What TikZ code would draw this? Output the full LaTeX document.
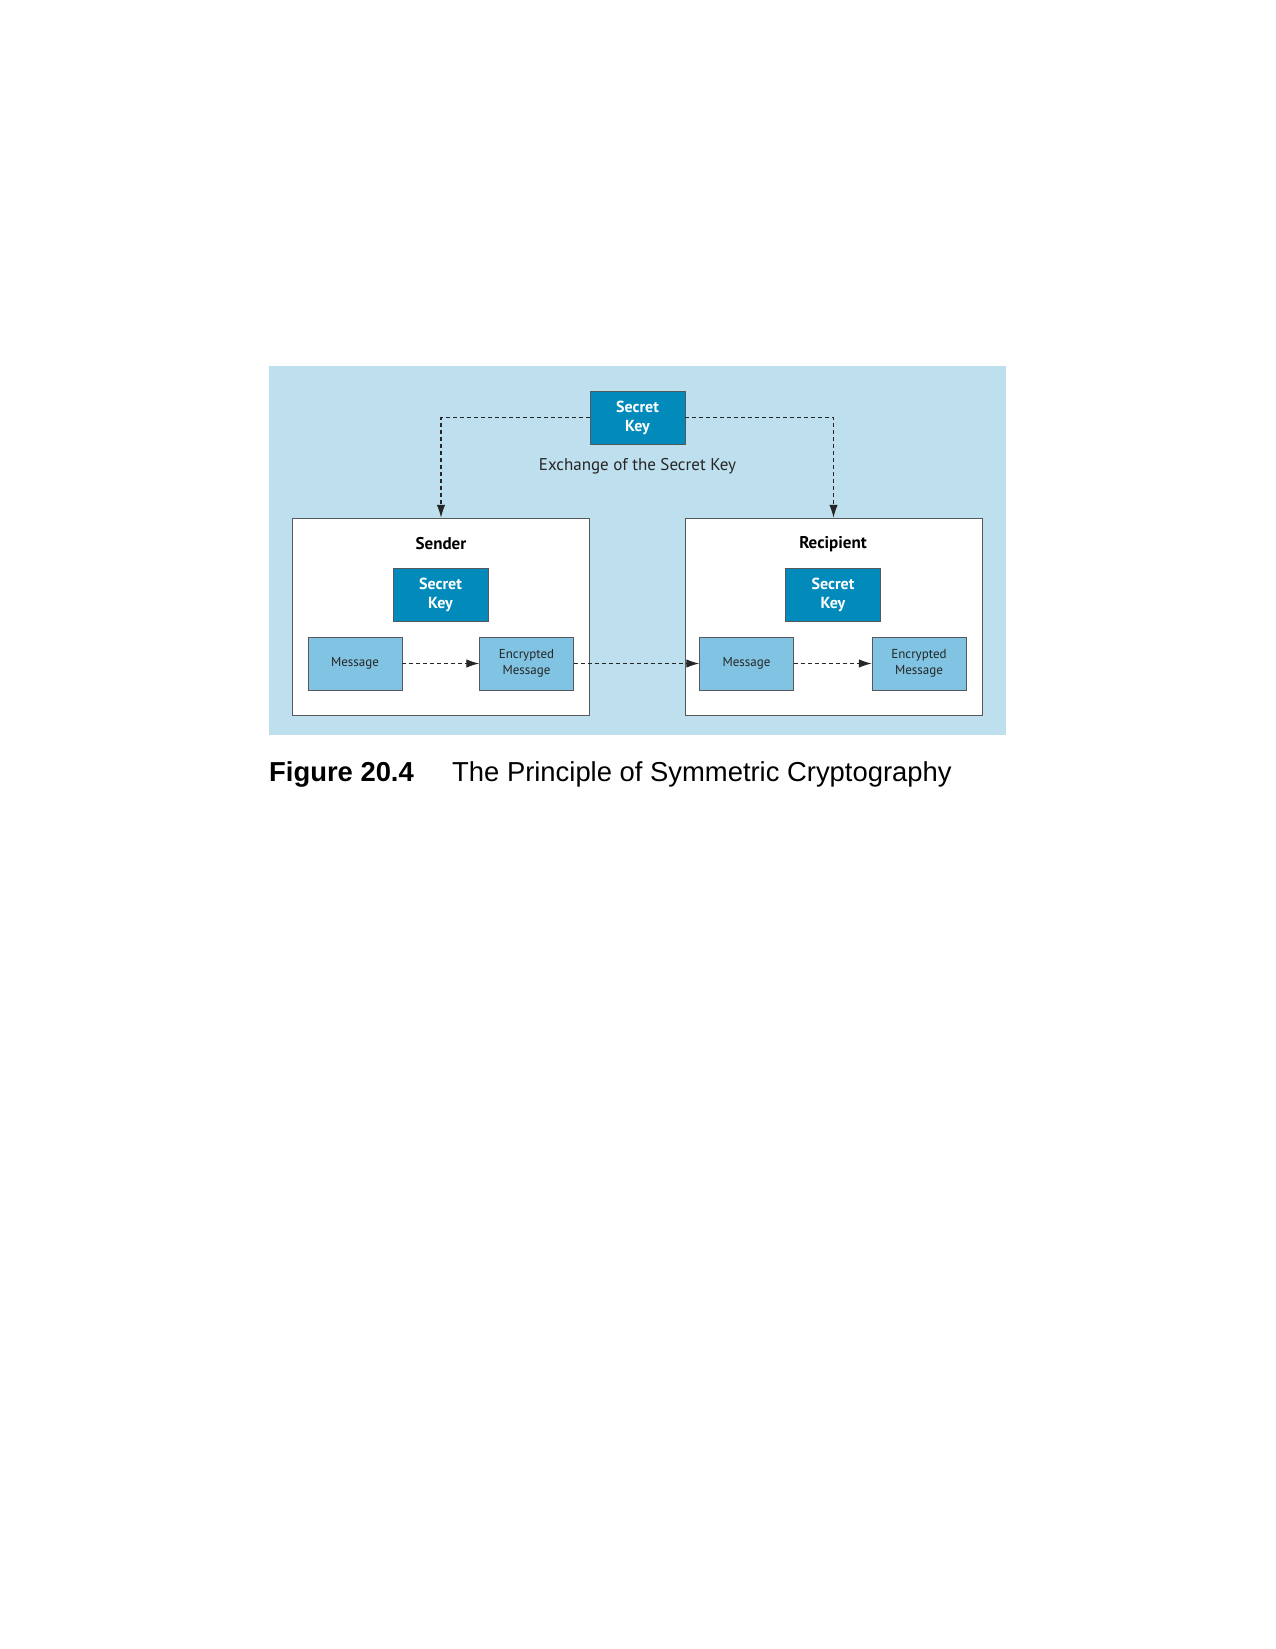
\documentclass[tikz,border=0pt]{standalone}
\usepackage{fontspec}
\setmainfont{PT Sans}
\newfontfamily\capfont{Liberation Sans}
\usepackage{xcolor}
\definecolor{PanelBlue}{HTML}{BEDFEE}
\definecolor{KeyBlue}{HTML}{028ABB}
\definecolor{MsgBlue}{HTML}{80C3E2}
\definecolor{EdgeGray}{HTML}{55595C}
\usetikzlibrary{arrows.meta,positioning}

\tikzset{
    keybox/.style={draw=EdgeGray, fill=KeyBlue, text=white, minimum width=95pt, minimum height=53pt, align=center, font=\fontsize{16}{19}\selectfont\bfseries},
    msgbox/.style={draw=EdgeGray, fill=MsgBlue, text=black!85, minimum width=94pt, minimum height=53pt, align=center, font=\fontsize{13}{16}\selectfont},
    party/.style={draw=EdgeGray, fill=white, minimum width=297pt, minimum height=197pt},
    flow/.style={dash pattern=on 4pt off 3pt, draw=black!85, line width=1.3pt, -{Latex[length=13pt, width=8.5pt]}}
}

\begin{document}
\begin{tikzpicture}[x=1pt, y=-1pt]
        \useasboundingbox (0,0) rectangle (1275,1649);
        \fill[PanelBlue] (269,366) rectangle (1006,735);

        % shared key on top
        \node[keybox] (topkey) at (637.5,417.5) {Secret\\Key};
        \node[font=\fontsize{17}{20}\selectfont, text=black!85] (exchange) at (637.5,466) {Exchange of the Secret Key};

        % sender side
        \node[party] (sender) at (441,616.5) {};
        \node[font=\fontsize{17}{20}\selectfont\bfseries] (sendlabel) at (441,544) {Sender};
        \node[keybox] (sendkey) at (440.5,594.5) {Secret\\Key};
        \node[msgbox] (sendmsg) at (355,663.5) {Message};
        \node[msgbox] (sendenc) at (526.5,663.5) {Encrypted\\Message};

        % recipient side
        \node[party] (recip) at (833.5,616.5) {};
        \node[font=\fontsize{17}{20}\selectfont\bfseries] (reciplabel) at (833,544) {Recipient};
        \node[keybox] (recipkey) at (833,594.5) {Secret\\Key};
        \node[msgbox] (recipmsg) at (746.5,663.5) {Message};
        \node[msgbox] (recipenc) at (919,663.5) {Encrypted\\Message};

        \draw[flow] (topkey.west) -| (sender.north);
        \draw[flow] (topkey.east) -| (recip.north);
        \draw[flow] (sendmsg) -- (sendenc);
        \draw[flow] (sendenc) -- (recipmsg);
        \draw[flow] (recipmsg) -- (recipenc);

        % caption
        \node[anchor=base west, inner sep=0pt, font=\capfont\fontsize{27.4}{32}\selectfont\bfseries] (capnum) at (269,781) {Figure 20.4};
        \node[anchor=base west, inner sep=0pt, font=\capfont\fontsize{27.4}{32}\selectfont] (captext) at (452,781) {The Principle of Symmetric Cryptography};
    \end{tikzpicture}
\end{document}
